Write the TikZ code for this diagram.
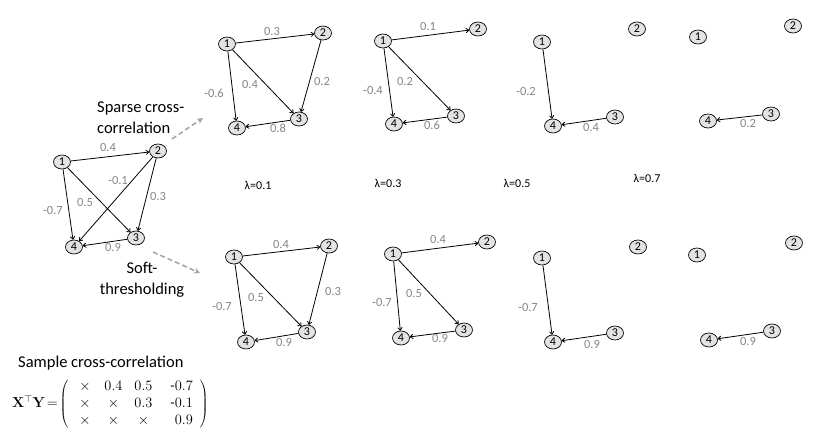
\documentclass[tikz,border=0pt]{standalone}
\usepackage[no-math]{fontspec}
\setmainfont{Carlito}
\usetikzlibrary{arrows.meta,shapes.geometric}
\tikzset{
  nd/.style={ellipse, draw, line width=0.7pt, fill=gray!22, minimum width=17pt, minimum height=14pt, inner sep=0pt, font=\fontsize{12}{12}\selectfont},
  wt/.style={text=gray!95!white, inner sep=0pt, font=\fontsize{12.5}{12.5}\selectfont},
  ar/.style={-{To[length=3.5pt,width=5pt]}, line width=0.8pt},
  lam/.style={font=\fontsize{12}{12}\selectfont, inner sep=0pt},
  big/.style={font=\fontsize{16.5}{21}\selectfont, inner sep=0pt},
  gar/.style={-{Stealth[length=6pt,width=6pt]}, draw=gray!70, line width=1.6pt, dash pattern=on 5pt off 3pt}
}
\begin{document}
\begin{tikzpicture}[x=1pt,y=-1pt]
\useasboundingbox (0,0) rectangle (830,437);
% left graph
\node[nd] (L1) at (62,162) {1};
\node[nd] (L2) at (158,151) {2};
\node[nd] (L3) at (136,238) {3};
\node[nd] (L4) at (74,247) {4};
\draw[ar] (L1) -- (L2);
\draw[ar] (L1) -- (L4);
\draw[ar] (L1) -- (L3);
\draw[ar] (L2) -- (L4);
\draw[ar] (L2) -- (L3);
\draw[ar] (L3) -- (L4);
\node[wt] (l12) at (108,147) {0.4};
\node[wt] (l24) at (118,180) {-0.1};
\node[wt] (l23) at (158,196) {0.3};
\node[wt] (l14) at (53,210) {-0.7};
\node[wt] (l13) at (85,202) {0.5};
\node[wt] (l34) at (113,247) {0.9};
% A
\node[nd] (A1) at (227,44) {1};
\node[nd] (A2) at (323,33) {2};
\node[nd] (A3) at (299,119) {3};
\node[nd] (A4) at (237,128) {4};
\draw[ar] (A1) -- (A2);
\draw[ar] (A1) -- (A4);
\draw[ar] (A1) -- (A3);
\draw[ar] (A2) -- (A3);
\draw[ar] (A3) -- (A4);
\node[wt] (a12) at (272,31) {0.3};
\node[wt] (a23) at (322,81) {0.2};
\node[wt] (a14) at (214,93) {-0.6};
\node[wt] (a13) at (250,84) {0.4};
\node[wt] (a34) at (278,128) {0.8};
% B
\node[nd] (B1) at (383,41) {1};
\node[nd] (B2) at (478,29) {2};
\node[nd] (B3) at (456,116) {3};
\node[nd] (B4) at (394,124) {4};
\draw[ar] (B1) -- (B2);
\draw[ar] (B1) -- (B4);
\draw[ar] (B1) -- (B3);
\draw[ar] (B3) -- (B4);
\node[wt] (b12) at (428,26) {0.1};
\node[wt] (b14) at (373,90) {-0.4};
\node[wt] (b13) at (405,81) {0.2};
\node[wt] (b34) at (432,125) {0.6};
% C
\node[nd] (C1) at (542,42) {1};
\node[nd] (C2) at (637,29) {2};
\node[nd] (C3) at (615,117) {3};
\node[nd] (C4) at (553,126) {4};
\draw[ar] (C1) -- (C4);
\draw[ar] (C3) -- (C4);
\node[wt] (c14) at (526,91) {-0.2};
\node[wt] (c34) at (591,127) {0.4};
% D
\node[nd] (D1) at (698,37) {1};
\node[nd] (D2) at (793,26) {2};
\node[nd] (D3) at (771,114) {3};
\node[nd] (D4) at (708,121) {4};
\draw[ar] (D3) -- (D4);
\node[wt] (d34) at (748,123) {0.2};
% E
\node[nd] (E1) at (234,257) {1};
\node[nd] (E2) at (329,246) {2};
\node[nd] (E3) at (307,332) {3};
\node[nd] (E4) at (246,342) {4};
\draw[ar] (E1) -- (E2);
\draw[ar] (E1) -- (E4);
\draw[ar] (E1) -- (E3);
\draw[ar] (E2) -- (E3);
\draw[ar] (E3) -- (E4);
\node[wt] (e12) at (281,244) {0.4};
\node[wt] (e23) at (333,291) {0.3};
\node[wt] (e14) at (222,306) {-0.7};
\node[wt] (e13) at (256,297) {0.5};
\node[wt] (e34) at (284,342) {0.9};
% F
\node[nd] (F1) at (393,254) {1};
\node[nd] (F2) at (487,242) {2};
\node[nd] (F3) at (464,330) {3};
\node[nd] (F4) at (401,338) {4};
\draw[ar] (F1) -- (F2);
\draw[ar] (F1) -- (F4);
\draw[ar] (F1) -- (F3);
\draw[ar] (F3) -- (F4);
\node[wt] (f12) at (438,239) {0.4};
\node[wt] (f14) at (382,302) {-0.7};
\node[wt] (f13) at (414,293) {0.5};
\node[wt] (f34) at (440,338) {0.9};
% G
\node[nd] (G1) at (542,258) {1};
\node[nd] (G2) at (638,247) {2};
\node[nd] (G3) at (615,333) {3};
\node[nd] (G4) at (553,342) {4};
\draw[ar] (G1) -- (G4);
\draw[ar] (G3) -- (G4);
\node[wt] (g14) at (528,307) {-0.7};
\node[wt] (g34) at (592,344) {0.9};
% H
\node[nd] (H1) at (697,255) {1};
\node[nd] (H2) at (794,243) {2};
\node[nd] (H3) at (772,331) {3};
\node[nd] (H4) at (709,340) {4};
\draw[ar] (H3) -- (H4);
\node[wt] (h34) at (748,341) {0.9};
% lambda labels
\node[lam] (lam1) at (258,185) {λ=0.1};
\node[lam] (lam3) at (388,183) {λ=0.3};
\node[lam] (lam5) at (517,183) {λ=0.5};
\node[lam] (lam7) at (647,178) {λ=0.7};
% dashed arrows
\coordinate (da1) at (172,139);
\coordinate (da2) at (203,118);
\coordinate (db1) at (153,252);
\coordinate (db2) at (200,273);
\draw[gar] (da1) -- (da2);
\draw[gar] (db1) -- (db2);
% texts
\node[big, align=left, anchor=west] (sparse) at (97,118) {Sparse cross-\\correlation};
\node[big, align=center] (soft) at (142,280) {Soft-\\thresholding};
\node[big, anchor=west] (sample) at (18,363) {Sample cross-correlation};
\node[anchor=west, inner sep=0pt, font=\fontsize{14}{17}\selectfont] (mat) at (12,404)
  {$\mathbf{X}^{\top}\mathbf{Y}\!=\!\left(\begin{array}{@{\hspace{11pt}}c@{\hspace{14pt}}c@{\hspace{12pt}}c@{\hspace{18pt}}r@{\hspace{7pt}}}
  \times & 0.4 & 0.5 & \mbox{-}0.7\\
  \times & \times & 0.3 & \mbox{-}0.1\\
  \times & \times & \times & 0.9
  \end{array}\right)$};
\end{tikzpicture}
\end{document}
